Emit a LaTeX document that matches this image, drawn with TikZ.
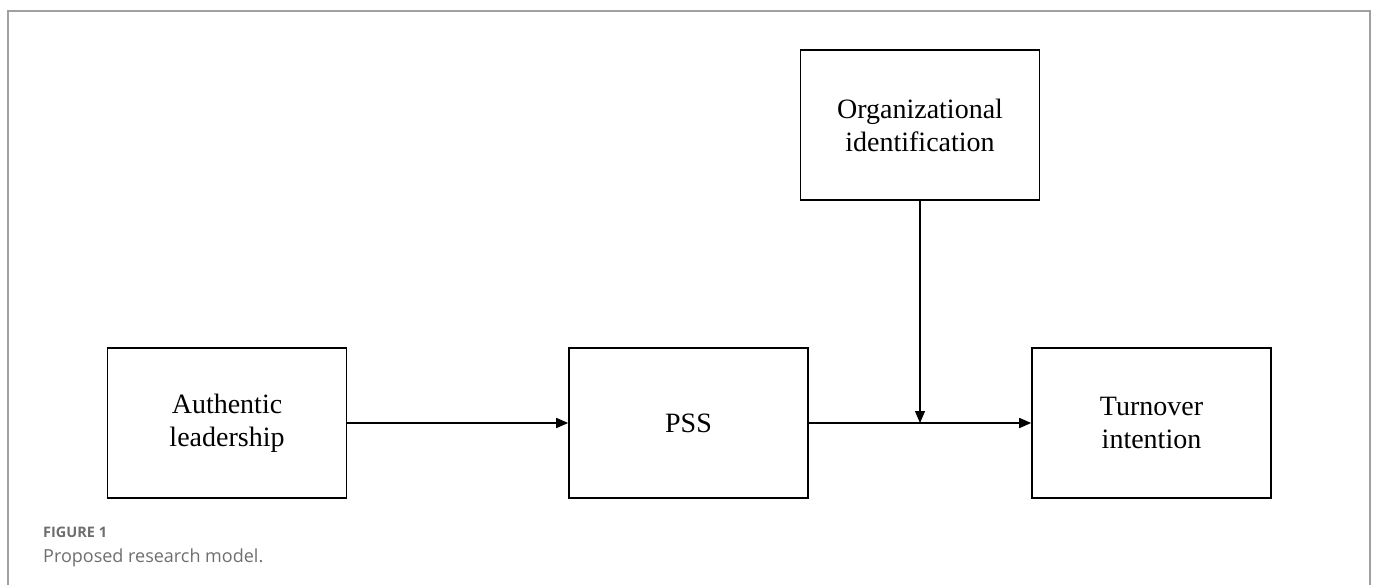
\documentclass[tikz,border=0pt]{standalone}
\usepackage{fontspec}
\setmainfont{Liberation Serif}
\newfontfamily\capfont{Open Sans}
\usepackage{tikz}
\usetikzlibrary{arrows.meta}
\definecolor{FrameGray}{RGB}{160,160,160}
\definecolor{CaptionGray}{RGB}{110,110,112}
\begin{document}
\begin{tikzpicture}[x=1pt,y=-1pt,
  var/.style={draw,line width=1.6pt,minimum width=239pt,minimum height=150pt,align=center,font=\fontsize{28}{33}\selectfont,inner sep=0pt},
  path/.style={line width=1.6pt,-{Triangle[length=12pt,width=10pt]}},
  mod/.style={line width=1.1pt,-{Triangle[length=12pt,width=10pt]}}]
\useasboundingbox (0,0) rectangle (1375,585);
\draw[FrameGray,line width=1.2pt] (8,585) -- (8,11) -- (1370,11) -- (1370,585);
\node[var](al) at(227,423) {Authentic\\leadership};
\node[var](pss) at(688.5,423) {PSS};
\node[var](ti) at(1151.5,423) {Turnover\\intention};
\node[var](oi) at(920,125) {Organizational\\identification};
\coordinate (jn) at (oi.south |- pss.east);
\draw[path] (al) -- (pss);
\draw[path] (pss) -- (ti);
\draw[mod] (oi) -- (jn);
\node[anchor=base west,text=CaptionGray,font=\capfont\bfseries\fontsize{14.5}{17}\selectfont,inner sep=0pt](fig) at(43,537) {FIGURE 1};
\node[anchor=base west,text=CaptionGray,font=\capfont\fontsize{18}{21}\selectfont,inner sep=0pt](cap) at(43,562) {Proposed research model.};
\end{tikzpicture}
\end{document}
